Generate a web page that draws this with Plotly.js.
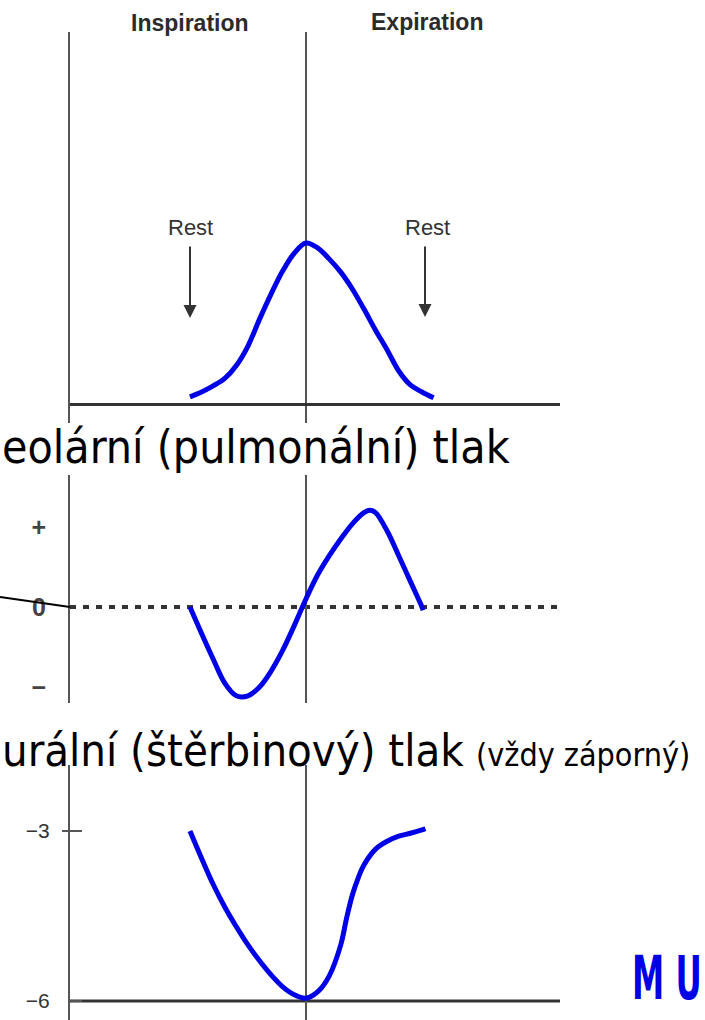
<!DOCTYPE html>
<html>
<head>
<meta charset="utf-8">
<script src="https://cdn.plot.ly/plotly-3.0.1.min.js"></script>
<style>
  body { margin: 0; background: #fff; }
  #graf { width: 705px; height: 1020px; }
</style>
</head>
<body>
<div id="graf"></div>
<script>
// cas dychu: -1 = zacatek nadechu, 0 = konec nadechu, 1 = konec vydechu
const cas = [-1.0, -0.9, -0.8, -0.7, -0.6, -0.5, -0.4, -0.3, -0.2, -0.1, 0.0,
             0.1, 0.2, 0.3, 0.4, 0.5, 0.6, 0.7, 0.8, 0.9, 1.0, 1.1];
const objem = [0.025, 0.040, 0.059, 0.082, 0.122, 0.182, 0.265, 0.343, 0.414, 0.469, 0.500,
               0.485, 0.451, 0.410, 0.358, 0.296, 0.231, 0.170, 0.105, 0.062, 0.040, 0.022];

const casAlv = [-1.0, -0.9, -0.8, -0.7, -0.6, -0.5, -0.4, -0.3, -0.2, -0.1, 0.0,
                0.1, 0.2, 0.3, 0.4, 0.5, 0.55, 0.6, 0.7, 0.8, 0.9, 1.0, 1.01];
const alveolarni = [0.0, -0.33, -0.65, -0.95, -1.11, -1.11, -1.00, -0.80, -0.54, -0.23, 0.10,
                    0.40, 0.64, 0.85, 1.04, 1.18, 1.21, 1.18, 0.95, 0.64, 0.32, 0.0, -0.04];

const casPl = [-1.0, -0.9, -0.8, -0.7, -0.6, -0.5, -0.4, -0.3, -0.2, -0.1, 0.0,
               0.1, 0.2, 0.3, 0.35, 0.4, 0.45, 0.5, 0.6, 0.7, 0.8, 0.9, 1.0, 1.03];
const pleuralni = [-3.00, -3.48, -3.94, -4.34, -4.69, -5.01, -5.29, -5.54, -5.75, -5.89, -5.95,
                   -5.84, -5.56, -5.01, -4.54, -4.13, -3.83, -3.60, -3.32, -3.18, -3.09, -3.04, -2.98, -2.96];

const znackyAlv = [-1, 0, 1];
const popiskyAlv = ["−", "0", "+"];
const znackyPl = [-3, -6];
const popiskyPl = ["−3", "−6"];

const modra = "#0000e6";
const seda = "#555";
const W = 705, H = 1020;
function px(x) { return x / W; }
function py(y) { return 1 - y / H; }

const cara = {color: modra, width: 5, shape: "spline", smoothing: 1};

const data = [
  {x: cas, y: objem, type: "scatter", mode: "lines", line: cara, xaxis: "x", yaxis: "y", hoverinfo: "skip"},
  {x: casAlv, y: alveolarni, type: "scatter", mode: "lines", line: cara, xaxis: "x2", yaxis: "y2", hoverinfo: "skip"},
  {x: casPl, y: pleuralni, type: "scatter", mode: "lines", line: cara, xaxis: "x3", yaxis: "y3", hoverinfo: "skip"}
];

const dom = [px(70), px(560)];
const rozsah = [-2.034, 2.19];
function osaX(kotva) {
  return {domain: dom, range: rozsah, anchor: kotva, showticklabels: false, showgrid: false,
          zeroline: true, zerolinecolor: seda, zerolinewidth: 1.5, showline: false, fixedrange: true};
}
const helv = "Liberation Sans, Arial, sans-serif";
const tahoma = "DejaVu Sans Condensed, DejaVu Sans, sans-serif";

const layout = {
  width: W, height: H,
  margin: {l: 0, r: 0, t: 0, b: 0},
  paper_bgcolor: "#fff", plot_bgcolor: "rgba(0,0,0,0)",
  showlegend: false,
  xaxis: osaX("y"),
  yaxis: {domain: [py(423), py(32)], range: [-0.0556, 1.1512], showline: true, linecolor: seda, linewidth: 2,
          showticklabels: false, showgrid: false, zeroline: true, zerolinecolor: "#333", zerolinewidth: 3, fixedrange: true},
  xaxis2: osaX("y2"),
  yaxis2: {domain: [py(703), py(475)], range: [-1.2, 1.65], showline: true, linecolor: seda, linewidth: 2,
           showgrid: false, zeroline: false, tickmode: "array", tickvals: znackyAlv, ticktext: popiskyAlv,
           ticks: "", ticklabelstandoff: 17, tickfont: {family: helv, size: 25, weight: "bold", color: "#444"},
           fixedrange: true},
  xaxis3: osaX("y3"),
  yaxis3: {domain: [0, py(765)], range: [-6.335, -1.835], showline: true, linecolor: seda, linewidth: 2,
           showgrid: false, zeroline: false, tickmode: "array", tickvals: znackyPl, ticktext: popiskyPl,
           ticks: "inside", ticklen: 12, tickwidth: 1.5, tickcolor: seda,
           minor: {tickmode: "array", tickvals: [-3], ticks: "outside", ticklen: 6, tickwidth: 1.5, tickcolor: seda},
           ticklabelstandoff: 14, tickfont: {family: helv, size: 21, color: "#333"}, fixedrange: true},
  shapes: [
    {type: "line", layer: "below", xref: "x2 domain", x0: 0, x1: 1, yref: "y2", y0: 0, y1: 0,
     line: {color: "#333", width: 4, dash: "6px,7px"}},
    {type: "line", xref: "paper", x0: 0, x1: px(70), yref: "y2", y0: 0.125, y1: 0,
     line: {color: "#000", width: 2}},
    {type: "line", layer: "below", xref: "x3 domain", x0: 0, x1: 1, yref: "y3", y0: -6, y1: -6,
     line: {color: "#333", width: 3}}
  ],
  annotations: [
    {text: "Inspiration", xref: "paper", yref: "paper", x: px(190), xanchor: "center", y: py(23), yanchor: "middle",
     showarrow: false, font: {family: helv, size: 23, weight: "bold", color: "#2b2b2b"}},
    {text: "Expiration", xref: "paper", yref: "paper", x: px(427), xanchor: "center", y: py(22), yanchor: "middle",
     showarrow: false, font: {family: helv, size: 23, weight: "bold", color: "#2b2b2b"}},
    {text: "Rest", xref: "paper", yref: "paper", x: px(190), xanchor: "center", y: py(227), yanchor: "middle",
     showarrow: false, font: {family: helv, size: 22, color: "#333"}},
    {text: "Rest", xref: "paper", yref: "paper", x: px(427), xanchor: "center", y: py(227), yanchor: "middle",
     showarrow: false, font: {family: helv, size: 22, color: "#333"}},
    {text: "", xref: "paper", yref: "paper", x: px(190), y: py(318), ax: 0, ay: -73, showarrow: true,
     arrowhead: 2, arrowsize: 1.3, arrowwidth: 2, arrowcolor: "#333", standoff: 0},
    {text: "", xref: "paper", yref: "paper", x: px(425), y: py(317), ax: 0, ay: -72, showarrow: true,
     arrowhead: 2, arrowsize: 1.3, arrowwidth: 2, arrowcolor: "#333", standoff: 0},
    {text: "eolární (pulmonální) tlak", xref: "paper", yref: "paper", x: 0, xanchor: "left",
     y: py(447), yanchor: "middle", showarrow: false,
     font: {family: tahoma, size: 46, color: "#000"}},
    {text: "urální (štěrbinový) tlak", xref: "paper", yref: "paper", x: 0, xanchor: "left",
     y: py(750), yanchor: "middle", showarrow: false,
     font: {family: tahoma, size: 45, color: "#000"}},
    {text: "(vždy záporný)", xref: "paper", yref: "paper", x: px(474), xanchor: "left",
     y: py(755), yanchor: "middle", showarrow: false,
     font: {family: tahoma, size: 32, color: "#000"}},
    {text: "M U", xref: "paper", yref: "paper", x: px(630), xanchor: "left",
     y: py(979), yanchor: "middle", showarrow: false,
     font: {family: tahoma, size: 36, weight: "bold", color: modra}}
  ]
};

Plotly.newPlot("graf", data, layout, {displayModeBar: false, staticPlot: true}).then(function () {
  // logo MU: uzke vysoke pismo, natahnout svisle
  document.querySelectorAll("#graf text.annotation-text").forEach(function (t) {
    if (t.textContent === "M U") {
      const b = t.getBBox();
      const cy = b.y + b.height * 0.56;
      t.setAttribute("transform", "translate(0," + cy + ") scale(1,1.7) translate(0," + (-cy) + ")");
    }
  });
});
</script>
</body>
</html>
